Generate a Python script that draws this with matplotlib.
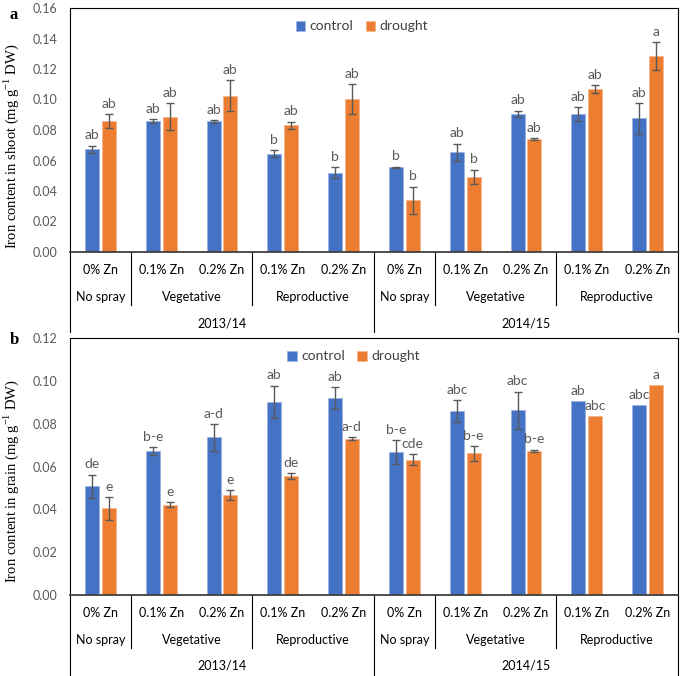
import matplotlib.pyplot as plt
import numpy as np

plt.rcParams['font.family'] = ['Lato', 'DejaVu Sans']

# Datos
dosis = ['0% Zn', '0.1% Zn', '0.2% Zn', '0.1% Zn', '0.2% Zn',
         '0% Zn', '0.1% Zn', '0.2% Zn', '0.1% Zn', '0.2% Zn']
etapas = ['No spray', 'Vegetative', 'Reproductive', 'No spray', 'Vegetative', 'Reproductive']
etapas_n = [1, 2, 2, 1, 2, 2]
anios = ['2013/14', '2014/15']
anios_n = [5, 5]

# Panel a: hierro en tallo
tallo_control = [0.0673, 0.0857, 0.0857, 0.0645, 0.0520, 0.0555, 0.0654, 0.0905, 0.0905, 0.0877]
tallo_control_err = [0.0025, 0.0012, 0.0008, 0.0025, 0.0035, 0.0005, 0.0057, 0.0022, 0.0048, 0.0102]
tallo_sequia = [0.0861, 0.0887, 0.1025, 0.0831, 0.1003, 0.0339, 0.0494, 0.0741, 0.1069, 0.1285]
tallo_sequia_err = [0.0046, 0.0088, 0.0103, 0.0024, 0.0100, 0.0090, 0.0046, 0.0008, 0.0026, 0.0089]
tallo_letras_control = ['ab', 'ab', 'ab', 'b', 'b', 'b', 'ab', 'ab', 'ab', 'ab']
tallo_letras_sequia = ['ab', 'ab', 'ab', 'ab', 'ab', 'b', 'b', 'ab', 'ab', 'a']

# Panel b: hierro en grano
grano_control = [0.0508, 0.0671, 0.0736, 0.0903, 0.0919, 0.0666, 0.0860, 0.0863, 0.0905, 0.0886]
grano_control_err = [0.0054, 0.0019, 0.0062, 0.0075, 0.0051, 0.0056, 0.0051, 0.0087, 0, 0]
grano_sequia = [0.0405, 0.0421, 0.0466, 0.0557, 0.0730, 0.0632, 0.0661, 0.0674, 0.0834, 0.0981]
grano_sequia_err = [0.0053, 0.0011, 0.0023, 0.0014, 0.0006, 0.0027, 0.0035, 0.0005, 0, 0]
grano_letras_control = ['de', 'b-e', 'a-d', 'ab', 'ab', 'b-e', 'abc', 'abc', 'ab', 'abc']
grano_letras_sequia = ['e', 'e', 'e', 'de', 'a-d', 'cde', 'b-e', 'b-e', 'abc', 'a']

azul = '#4472C4'
naranja = '#ED7D31'
gris = '#595959'


def panel(ax, control, control_err, sequia, sequia_err, let_c, let_s,
          ymax, ylabel, alto_px, fondo_px, leg_x, ylab_pos):
    x = np.arange(len(control))
    control = np.array(control)
    sequia = np.array(sequia)
    control_err = np.array(control_err)
    sequia_err = np.array(sequia_err)
    ancho = 0.23
    ax.bar(x - 0.138, control, ancho, color=azul, edgecolor='#9db3e0', linewidth=0.5,
           label='control', zorder=2)
    ax.bar(x + 0.138, sequia, ancho, color=naranja, edgecolor='#f5b58c', linewidth=0.5,
           label='drought', zorder=2)
    # solo las barras que tienen error
    m = control_err > 0
    ax.errorbar(x[m] - 0.138, control[m], yerr=control_err[m], fmt='none', ecolor=gris,
                elinewidth=1, capsize=3, capthick=1, zorder=3)
    m = sequia_err > 0
    ax.errorbar(x[m] + 0.138, sequia[m], yerr=sequia_err[m], fmt='none', ecolor=gris,
                elinewidth=1, capsize=3, capthick=1, zorder=3)

    # Letras de significancia
    for i in range(len(control)):
        ax.annotate(let_c[i], (x[i] - 0.138, control[i] + control_err[i]),
                    xytext=(0, 3), textcoords='offset points', ha='center',
                    va='bottom', fontsize=10, color=gris)
        ax.annotate(let_s[i], (x[i] + 0.138, sequia[i] + sequia_err[i]),
                    xytext=(0, 3), textcoords='offset points', ha='center',
                    va='bottom', fontsize=10, color=gris)

    ax.set_xlim(-0.5, len(control) - 0.5)
    ax.set_ylim(0, ymax)
    ticks = np.arange(0, ymax + 1e-9, 0.02)
    ax.set_yticks(ticks)
    ax.set_yticklabels(['{:.2f}'.format(v) for v in ticks])
    ax.set_xticks([])
    ax.tick_params(axis='y', length=0, pad=9, labelcolor=gris, labelsize=9)
    for s in ['left', 'right', 'top']:
        ax.spines[s].set_color('black')
        ax.spines[s].set_linewidth(0.8)
    ax.spines['bottom'].set_color('#404040')
    ax.spines['bottom'].set_linewidth(1.3)

    ax.set_ylabel(ylabel, family='Liberation Serif', fontsize=10.5, color='black')
    ax.yaxis.set_label_coords(*ylab_pos)

    ax.legend(loc='upper center', bbox_to_anchor=(leg_x, 1.0), ncol=2, frameon=False,
              handlelength=0.7, handleheight=0.7, handletextpad=0.3,
              columnspacing=0.9, fontsize=10, labelcolor='#404040')

    ## Tabla de categorias debajo del eje
    tr = ax.get_xaxis_transform()

    def yfr(px):
        return -px / alto_px

    for i, d in enumerate(dosis):
        ax.text(i, yfr(18), d, transform=tr, ha='center', va='center',
                fontsize=9, color='black')
    bordes = np.cumsum(etapas_n) - 0.5
    inicios = bordes - np.array(etapas_n)
    for e, a, b in zip(etapas, inicios, bordes):
        ax.text((a + b) / 2, yfr(45), e, transform=tr, ha='center', va='center',
                fontsize=9, color='black')
    bordes_anio = np.cumsum(anios_n) - 0.5
    inicios_anio = bordes_anio - np.array(anios_n)
    for e, a, b in zip(anios, inicios_anio, bordes_anio):
        ax.text((a + b) / 2, yfr(71), e, transform=tr, ha='center', va='center',
                fontsize=9, color='black')
    for b in bordes:
        if b in bordes_anio:
            continue
        ax.plot([b, b], [0, yfr(53)], transform=tr, color='black', lw=0.8, clip_on=False)
    for b in list(bordes_anio) + [-0.5]:
        ax.plot([b, b], [0, yfr(fondo_px)], transform=tr, color='black', lw=0.8,
                clip_on=False)


## Figura
fig = plt.figure(figsize=(6.85, 6.76), dpi=100)
W, H = 685, 676
ax1 = fig.add_axes([70 / W, (H - 252) / H, 608 / W, 244 / H])
ax2 = fig.add_axes([70 / W, (H - 595) / H, 608 / W, 257 / H])

panel(ax1, tallo_control, tallo_control_err, tallo_sequia, tallo_sequia_err,
      tallo_letras_control, tallo_letras_sequia, 0.16,
      'Iron content in shoot (mg g$^{\\mathregular{-1}}$ DW)', 244, 80, 0.48,
      (-0.08, 0.434))
panel(ax2, grano_control, grano_control_err, grano_sequia, grano_sequia_err,
      grano_letras_control, grano_letras_sequia, 0.12,
      'Iron content in grain (mg g$^{\\mathregular{-1}}$ DW)', 257, 85, 0.466,
      (-0.08, 0.444))

fig.text(14 / W, 1 - 15 / H, 'a', family='Liberation Serif', fontweight='bold',
         fontsize=12, ha='center', va='center')
fig.text(14 / W, 1 - 340 / H, 'b', family='Liberation Serif', fontweight='bold',
         fontsize=12, ha='center', va='center')

fig.savefig('out.png', dpi=100)
